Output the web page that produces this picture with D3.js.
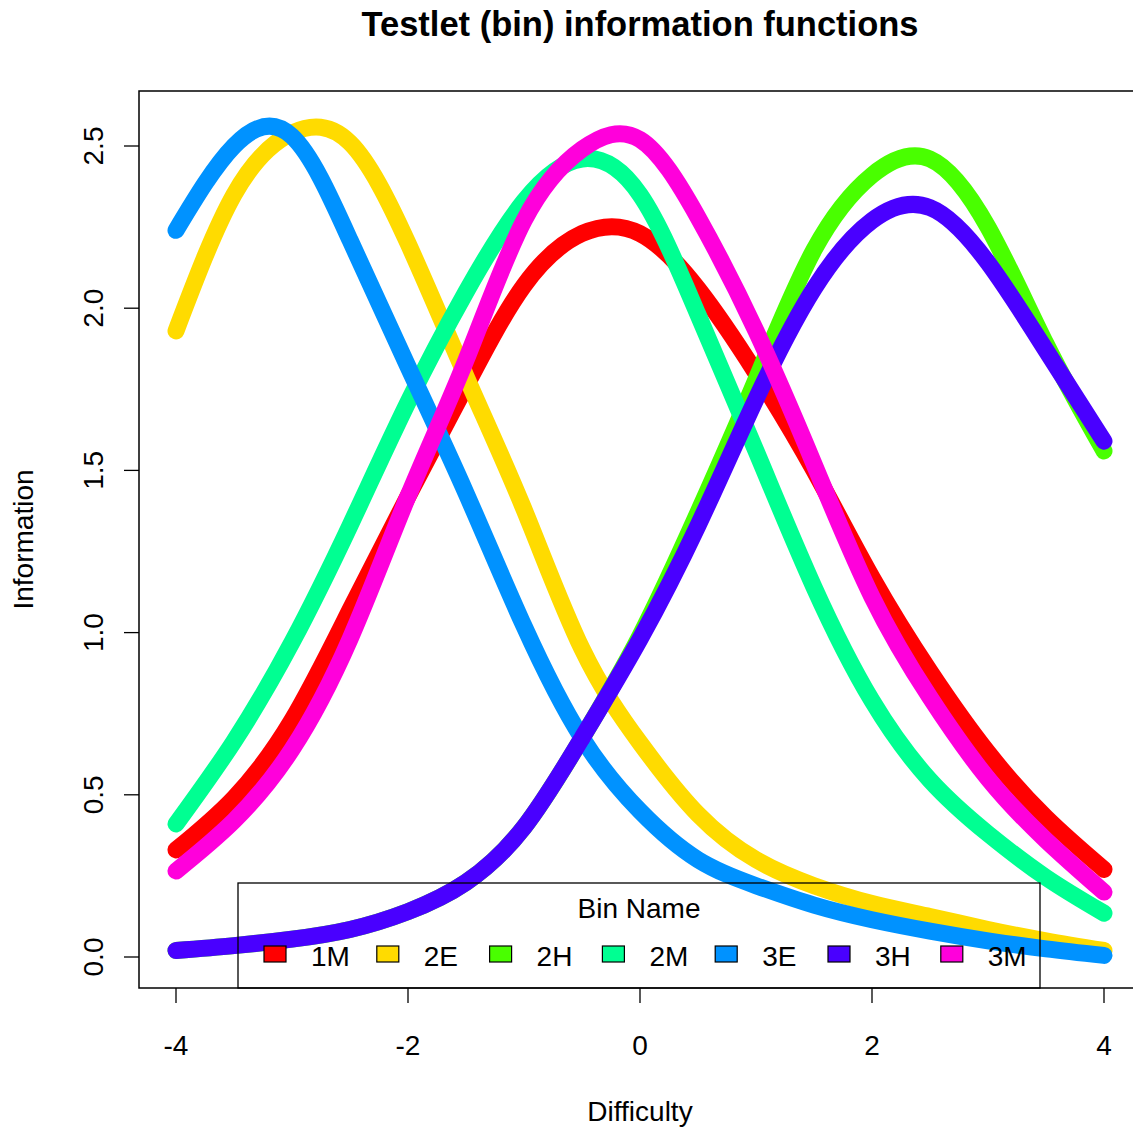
<!DOCTYPE html>
<html lang="en">
<head>
    <script src="https://d3js.org/d3.v7.min.js"></script>
    <style>
      body { margin: 0; background: #fff; }
      text { font-family: "Liberation Sans", Arial, sans-serif; fill: #000; }
    </style>
</head>
<body>
<script>

// data //
const binNames = ['1M', '2E', '2H', '2M', '3E', '3H', '3M']
const binColors = ['#FF0000', '#FFDB00', '#49FF00', '#00FF92', '#0092FF', '#4900FF', '#FF00DB']

const theta = [-4, -3.5, -3, -2.5, -2, -1.5, -1, -0.5, 0, 0.5, 1, 1.5, 2, 2.5, 3, 3.5, 4]

const info1M = [0.33, 0.49, 0.73, 1.07, 1.42, 1.76, 2.07, 2.23, 2.23, 2.06, 1.80, 1.50, 1.17, 0.88, 0.63, 0.43, 0.27]
const info2E = [1.93, 2.35, 2.54, 2.51, 2.20, 1.79, 1.38, 0.95, 0.66, 0.44, 0.30, 0.22, 0.165, 0.125, 0.085, 0.05, 0.02]
const info2H = [0.02, 0.035, 0.055, 0.085, 0.14, 0.23, 0.40, 0.675, 0.99, 1.37, 1.78, 2.18, 2.41, 2.46, 2.25, 1.89, 1.56]
const info2M = [0.41, 0.665, 0.97, 1.33, 1.71, 2.05, 2.33, 2.46, 2.35, 1.98, 1.56, 1.14, 0.79, 0.545, 0.38, 0.245, 0.135]
const info3E = [2.24, 2.50, 2.53, 2.21, 1.82, 1.43, 1.02, 0.675, 0.45, 0.30, 0.22, 0.16, 0.115, 0.08, 0.05, 0.025, 0.005]
const info3H = [0.02, 0.035, 0.055, 0.085, 0.14, 0.23, 0.40, 0.675, 0.98, 1.33, 1.72, 2.06, 2.27, 2.31, 2.14, 1.87, 1.59]
const info3M = [0.265, 0.42, 0.64, 0.98, 1.42, 1.84, 2.27, 2.49, 2.52, 2.28, 1.93, 1.52, 1.11, 0.80, 0.55, 0.36, 0.20]

const infoValues = [info1M, info2E, info2H, info2M, info3E, info3H, info3M]

const xTicks = [-4, -2, 0, 2, 4]
const yTicks = [0, 0.5, 1, 1.5, 2, 2.5]

const width = 1133,
height = 1132

// plot region (R style, 4% padding on both axes)
const plotLeft = 139, plotTop = 91, plotBottom = 988

const x = d3.scaleLinear().domain([-4, 4]).range([176, 1104])
const y = d3.scaleLinear().domain([0, 2.5]).range([957, 146])

const svg = d3.select('body')
      .append('svg')
      .attr('width', width)
      .attr('height', height)

svg.append('rect')
  .attr('width', width)
  .attr('height', height)
  .attr('fill', '#fff')

const line = d3.line()
  .x((d) => x(d[0]))
  .y((d) => y(d[1]))
  .curve(d3.curveNatural)

// curves, in bin order (later bins drawn on top)
svg.append('g')
  .selectAll('path')
  .data(binNames)
  .enter()
  .append('path')
  .attr('fill', 'none')
  .attr('stroke', (d, i) => binColors[i])
  .attr('stroke-width', 17)
  .attr('stroke-linecap', 'round')
  .attr('stroke-linejoin', 'round')
  .attr('d', (d, i) => line(theta.map((t, j) => [t, infoValues[i][j]])))

// plot box
svg.append('rect')
  .attr('x', plotLeft)
  .attr('y', plotTop)
  .attr('width', x(4.32) - plotLeft)
  .attr('height', plotBottom - plotTop)
  .attr('fill', 'none')
  .attr('stroke', '#000')
  .attr('stroke-width', 1.5)

// x axis
const xAxis = svg.append('g')
xAxis.selectAll('line')
  .data(xTicks)
  .enter()
  .append('line')
  .attr('x1', (d) => x(d))
  .attr('x2', (d) => x(d))
  .attr('y1', plotBottom)
  .attr('y2', plotBottom + 15)
  .attr('stroke', '#000')
  .attr('stroke-width', 1.3)
xAxis.selectAll('text')
  .data(xTicks)
  .enter()
  .append('text')
  .attr('x', (d) => x(d))
  .attr('y', 1055)
  .attr('text-anchor', 'middle')
  .attr('font-size', 28)
  .text((d) => String(d))

// y axis
const yAxis = svg.append('g')
yAxis.selectAll('line')
  .data(yTicks)
  .enter()
  .append('line')
  .attr('x1', plotLeft)
  .attr('x2', plotLeft - 15)
  .attr('y1', (d) => y(d))
  .attr('y2', (d) => y(d))
  .attr('stroke', '#000')
  .attr('stroke-width', 1.3)
yAxis.selectAll('text')
  .data(yTicks)
  .enter()
  .append('text')
  .attr('transform', (d) => 'translate(103,' + y(d) + ') rotate(-90)')
  .attr('text-anchor', 'middle')
  .attr('font-size', 28)
  .text((d) => d3.format('.1f')(d))

// titles
svg.append('text')
  .attr('x', 640)
  .attr('y', 36)
  .attr('text-anchor', 'middle')
  .attr('font-size', 34.5)
  .attr('font-weight', 'bold')
  .text('Testlet (bin) information functions')

svg.append('text')
  .attr('x', 640)
  .attr('y', 1121)
  .attr('text-anchor', 'middle')
  .attr('font-size', 28)
  .text('Difficulty')

svg.append('text')
  .attr('transform', 'translate(33,' + ((plotTop + plotBottom) / 2) + ') rotate(-90)')
  .attr('text-anchor', 'middle')
  .attr('font-size', 28)
  .text('Information')

// legend (transparent, drawn over the curves)
const legend = svg.append('g')
legend.append('rect')
  .attr('x', 238)
  .attr('y', 883)
  .attr('width', 1040 - 238)
  .attr('height', plotBottom - 883)
  .attr('fill', 'none')
  .attr('stroke', '#000')
  .attr('stroke-width', 1.3)
legend.append('text')
  .attr('x', 639)
  .attr('y', 918)
  .attr('text-anchor', 'middle')
  .attr('font-size', 28)
  .attr('fill', '#222')
  .text('Bin Name')

const item = legend.selectAll('g.item')
  .data(binNames)
  .enter()
  .append('g')
  .attr('class', 'item')
  .attr('transform', (d, i) => 'translate(' + (264 + i * 112.8) + ',0)')
item.append('rect')
  .attr('x', 0)
  .attr('y', 946)
  .attr('width', 22)
  .attr('height', 16)
  .attr('fill', (d, i) => binColors[i])
  .attr('stroke', '#000')
  .attr('stroke-width', 1.2)
item.append('text')
  .attr('x', 47)
  .attr('y', 966)
  .attr('font-size', 28)
  .attr('fill', '#222')
  .text((d) => d)

</script>
</body>
</html>
